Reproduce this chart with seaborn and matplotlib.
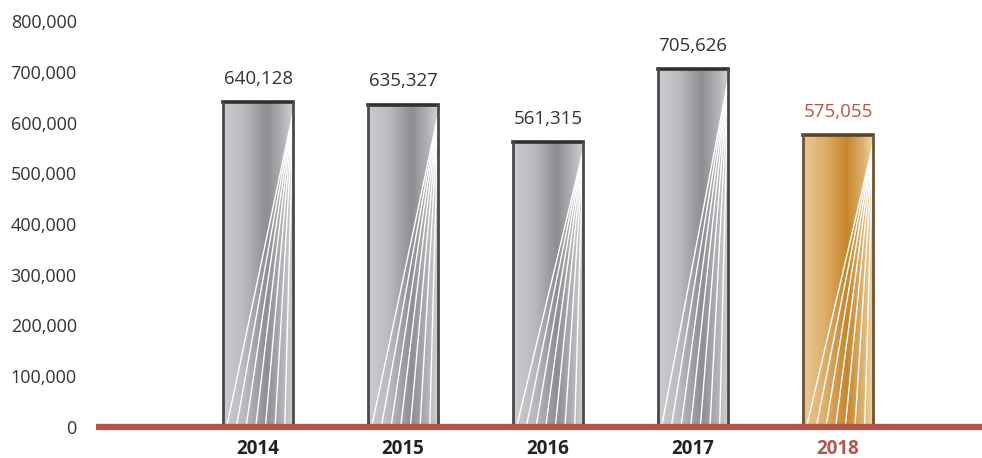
import numpy as np
import matplotlib
matplotlib.use("Agg")
import matplotlib.pyplot as plt
import seaborn as sns
from matplotlib.colors import LinearSegmentedColormap

years = ['2014', '2015', '2016', '2017', '2018']
values = [640128, 635327, 561315, 705626, 575055]
yticks = [0, 100000, 200000, 300000, 400000, 500000, 600000, 700000, 800000]

RED = '#b2564c'

sns.set_style("white")
plt.rcParams['font.family'] = ['Open Sans', 'DejaVu Sans']

fig = plt.figure(figsize=(9.82, 4.58), dpi=100)
ax = fig.add_axes([0.098, 0.068, 0.902, 0.886])

sns.barplot(x=years, y=values, color='white', width=0.483, ax=ax,
            edgecolor='none', linewidth=0)

silver = LinearSegmentedColormap.from_list('silver', [
    (0.0, '#cbcccf'), (0.3, '#babbbe'), (0.62, '#8d8e92'),
    (0.85, '#b3b4b7'), (1.0, '#d3d4d6')])
gold = LinearSegmentedColormap.from_list('gold', [
    (0.0, '#ecc993'), (0.3, '#ddaf6c'), (0.62, '#c7862c'),
    (0.85, '#dfb271'), (1.0, '#f3d9a9')])

grad = np.linspace(0, 1, 256).reshape(1, -1)
for i, p in enumerate(ax.patches):
    x0, w, h = p.get_x(), p.get_width(), p.get_height()
    cmap = gold if i == 4 else silver
    edge = '#5a4128' if i == 4 else '#2f2f2f'
    side = '#6e5236' if i == 4 else '#4a4a4a'
    p.set_facecolor('none')
    im = ax.imshow(grad, cmap=cmap, aspect='auto', extent=(x0, x0 + w, 0, h),
                   zorder=1, interpolation='bicubic')
    im.set_clip_path(p)
    # white fan lines
    top = (x0 + w, h * 0.97)
    for f in np.linspace(0.05, 0.88, 7):
        ln, = ax.plot([x0 + f * w, top[0]], [0, top[1]], color='white',
                      lw=1.0, zorder=2)
        ln.set_clip_path(p)
    # border
    ax.plot([x0, x0 + w], [h, h], color=edge, lw=2.6, zorder=3,
            solid_capstyle='projecting')
    ax.plot([x0, x0], [0, h], color=side, lw=2.0, zorder=3)
    ax.plot([x0 + w, x0 + w], [0, h], color=side, lw=2.0, zorder=3)

ax.set_xlim(-1.117, 4.993)
ax.set_ylim(0, 800000)
ax.set_yticks(yticks)
ax.set_yticklabels([f'{v:,}' for v in yticks], fontsize=13, color='#333333')
ax.tick_params(axis='y', length=0, pad=14)
ax.tick_params(axis='x', length=0, pad=9)
ax.set_xticks(range(len(years)))
ax.set_xticklabels(years, fontsize=13.5, fontweight='bold', color='#222222')
ax.get_xticklabels()[4].set_color(RED)

for s in ['top', 'right', 'left', 'bottom']:
    ax.spines[s].set_visible(False)
ax.axhline(0, color=RED, lw=4.5, zorder=4, clip_on=False,
           solid_capstyle='butt')

for i, (x, v) in enumerate(zip(range(len(years)), values)):
    ax.text(x, v + 28000, f'{v:,}', ha='center', va='bottom', fontsize=13.5,
            color=RED if i == 4 else '#333333')

ax.set_xlabel('')
ax.set_ylabel('')
fig.savefig('out.png', dpi=100)
